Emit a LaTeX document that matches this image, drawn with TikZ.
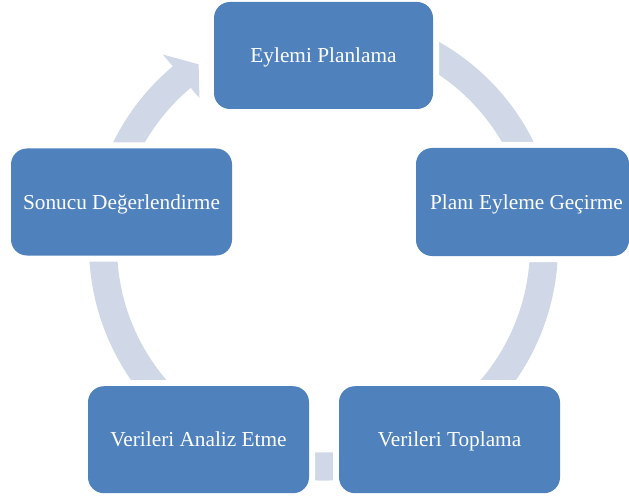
\documentclass[tikz,border=0pt]{standalone}
\usepackage{fontspec}
\setmainfont{Liberation Serif}
\definecolor{boxblue}{RGB}{79,129,189}
\definecolor{ringblue}{RGB}{208,216,232}
\newcommand{\boxfont}{\fontsize{21.3}{25}\selectfont}
\tikzset{
  box/.style={rounded corners=16pt, fill=boxblue,
    preaction={draw=white, line width=12pt},
    minimum height=107pt, inner sep=0pt, text=white, font=\boxfont,
    text height=14pt, text depth=0pt},
  ring/.style={fill=ringblue}
}
\begin{document}
\begin{tikzpicture}[x=1pt,y=-1pt]
\useasboundingbox (0,0) rectangle (629,500);
\clip (0,0) rectangle (629,500);
% circular arrow behind the boxes
\begin{scope}[shift={(323.5,246)}]
\fill[ring] (-110:234.5) arc[start angle=-110, end angle=230, radius=234.5]
  -- (230:250) -- (235.5:220.5) -- (230:193) -- (230:206.5)
  arc[start angle=230, end angle=-110, radius=206.5] -- cycle;
\end{scope}
% boxes
\node[box, minimum width=219pt] (plan) at (323.5,55.5) {Eylemi Planlama};
\node[box, minimum width=213pt, minimum height=108pt] (uygula) at (522.5,202) {\hspace*{8pt}Planı Eyleme Geçirme};
\node[box, minimum width=221pt] (topla) at (449.5,439.7) {Verileri Toplama};
\node[box, minimum width=221pt] (analiz) at (198.5,439.7) {Verileri Analiz Etme};
\node[box, minimum width=221pt] (deger) at (121.5,202) {Sonucu Değerlendirme};
\end{tikzpicture}
\end{document}
